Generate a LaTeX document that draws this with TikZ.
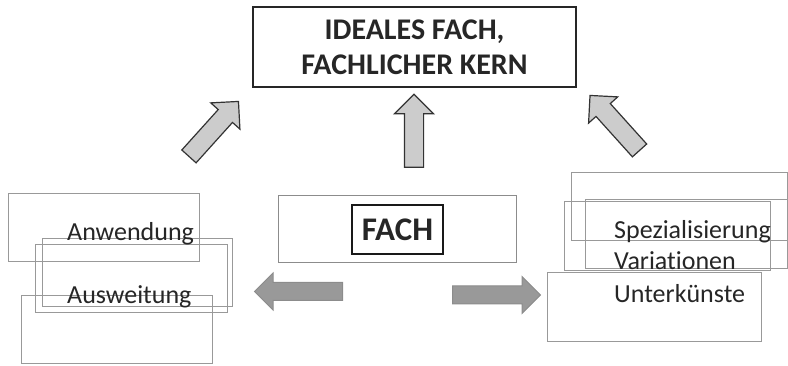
\documentclass[tikz,border=0pt]{standalone}
\usepackage{fontspec}
\setmainfont{Carlito}[Ligatures=NoCommon]
\usetikzlibrary{shapes.arrows}
\begin{document}
\begin{tikzpicture}[x=1pt,y=-1pt,
  box/.style={draw=black!40,line width=1pt,inner sep=0pt,minimum height=68pt},
  lbl/.style={anchor=base west,inner sep=0pt,text=black!85,font=\fontsize{26}{30}\selectfont},
  fatarrow/.style={single arrow,draw=black!80,fill=black!20,line width=1.2pt,inner xsep=0pt,
    inner ysep=9pt,single arrow head extend=10pt,minimum height=74pt},
  sidearrow/.style={single arrow,draw=black!45,fill=black!40,line width=1pt,inner xsep=0pt,
    inner ysep=8.5pt,single arrow head extend=9.5pt,minimum height=88pt}]
\useasboundingbox (0,0) rectangle (788,366);
% top
\node[draw=black!85,line width=1.5pt,minimum width=323pt,minimum height=80pt,inner sep=0pt,
  align=center,text=black!85,font=\bfseries\fontsize{30}{35}\selectfont] (kern) at (414.5,47)
  {IDEALES FACH,\\FACHLICHER KERN};
% middle
\node[draw=black!45,line width=1pt,minimum width=238pt,minimum height=67pt] (fachbox) at (397,229.5) {};
\node[draw=black!90,line width=1.2pt,minimum width=91pt,minimum height=49pt,inner sep=0pt,
  text=black!85,font=\bfseries\fontsize{33}{36}\selectfont] (fach) at (397.5,229.5) {FACH};
% left stack
\node[box,minimum width=191pt] (a1) at (103.5,228) {};
\node[box,minimum width=190pt] (a2) at (137,273) {};
\node[box,minimum width=192pt] (a3) at (131,279) {};
\node[box,minimum width=191pt] (a4) at (116.5,330) {};
\node[lbl] (anw) at (67,241) {Anwendung};
\node[lbl] (ausw) at (67,304) {Ausweitung};
% right stack
\node[box,minimum width=216pt] (s1) at (679,207) {};
\node[box,minimum width=202pt,minimum height=69pt] (s2) at (686,234.5) {};
\node[box,minimum width=206pt,minimum height=69pt] (s3) at (667,236.5) {};
\node[box,minimum width=214pt,minimum height=69pt] (s4) at (654,307.5) {};
\node[lbl] (spez) at (614,239) {Spezialisierung};
\node[lbl] (var) at (614,270) {Variationen};
\node[lbl] (unt) at (614,303) {Unterkünste};
% arrows
\node[fatarrow,rotate=48] (upl) at (210.5,132.5) {};
\node[fatarrow,rotate=90,minimum height=73pt] (upm) at (414,135.5) {};
\node[fatarrow,rotate=132] (upr) at (618,126.5) {};
\node[sidearrow,rotate=180] (left) at (303,291.5) {};
\node[sidearrow] (right) at (492,295) {};
\end{tikzpicture}
\end{document}
